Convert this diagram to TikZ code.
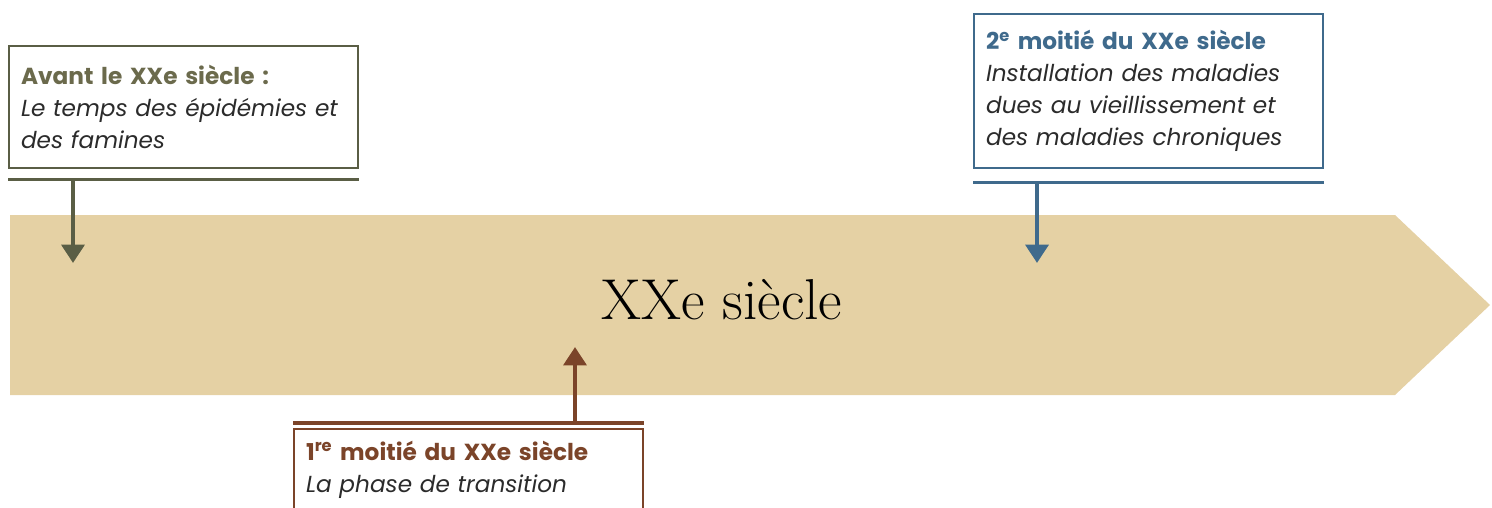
\documentclass[tikz,border=0pt]{standalone}
\usepackage{fontspec}
\setmainfont{Poppins}
\newfontfamily\titlefont{Latin Modern Roman}
\usetikzlibrary{arrows.meta}

\definecolor{bandcol}{HTML}{E5D1A4}
\definecolor{avantcol}{HTML}{5A5E45}
\definecolor{avanttxt}{HTML}{6B6A4C}
\definecolor{deuxcol}{HTML}{3F6A8C}
\definecolor{premcol}{HTML}{7B4429}
\definecolor{bodytxt}{HTML}{2B2B2B}

\tikzset{
	periodbox/.style={draw=#1, line width=1.5pt, fill=white, anchor=north west,
		minimum width=8.725cm, text width=8.125cm, inner xsep=0.3cm, inner ysep=0.25cm,
		align=left, font=\fontsize{16.5}{22.7}\selectfont, text=bodytxt},
	periodrule/.style={draw=#1, line width=2.2pt},
	periodarrow/.style={draw=#1, line width=3.4pt, -{Triangle[length=13pt,width=16pt]}}
}

\begin{document}
\begin{tikzpicture}[x=0.025cm,y=-0.025cm]

	% frame of the picture
	\clip (0,0) rectangle (1492,507);
	\useasboundingbox (0,0) rectangle (1492,507);

	% the time band
	\fill[bandcol] (10,215) -- (1395,215) -- (1490,305) -- (1395,395) -- (10,395) -- cycle;
	\node[font=\titlefont\fontsize{41}{44}\selectfont] (siecle) at (722,300) {XXe siècle};

	% boxes
	\node[periodbox=avantcol, minimum height=3.05cm] (avant) at (8,45)
		{{\bfseries\color{avanttxt}Avant le XXe siècle :}\\
		 \itshape Le temps des épidémies et\\
		 \itshape des famines};
	\node[periodbox=deuxcol, minimum height=3.85cm] (deux) at (973,13)
		{{\bfseries\color{deuxcol}2\textsuperscript{e} moitié du XXe siècle}\\
		 \itshape Installation des maladies\\
		 \itshape dues au vieillissement et\\
		 \itshape des maladies chroniques};
	\node[periodbox=premcol, inner ysep=0.3cm] (prem) at (293,428)
		{{\bfseries\color{premcol}1\textsuperscript{re} moitié du XXe siècle}\\
		 \itshape La phase de transition};

	% rules under / above the boxes
	\coordinate (avantrule) at ([yshift=-0.25cm]avant.south west);
	\coordinate (deuxrule) at ([yshift=-0.325cm]deux.south west);
	\coordinate (premrule) at ([yshift=0.125cm]prem.north west);
	\draw[periodrule=avantcol] (avantrule) -- ([yshift=-0.25cm]avant.south east);
	\draw[periodrule=deuxcol] (deuxrule) -- ([yshift=-0.325cm]deux.south east);
	\draw[periodrule=premcol] (premrule) -- ([yshift=0.125cm]prem.north east);

	% arrows into the band
	\coordinate (avanttip) at (73,263);
	\coordinate (deuxtip) at (1037,263);
	\coordinate (premtip) at (575,347);
	\draw[periodarrow=avantcol] (avantrule -| avanttip) -- (avanttip);
	\draw[periodarrow=deuxcol] (deuxrule -| deuxtip) -- (deuxtip);
	\draw[periodarrow=premcol] (premrule -| premtip) -- (premtip);

\end{tikzpicture}
\end{document}
